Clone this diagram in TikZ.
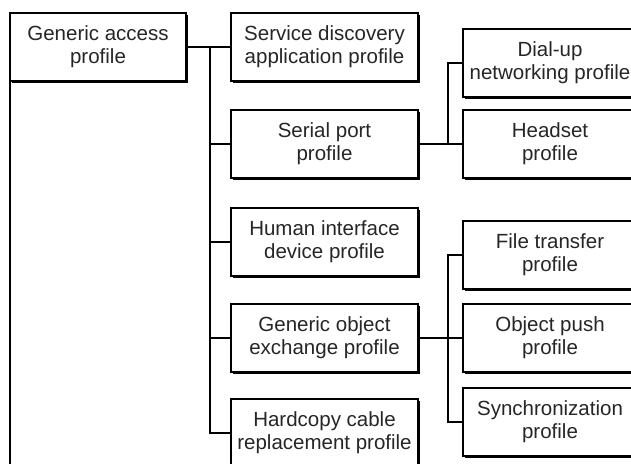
\documentclass[tikz,border=0pt]{standalone}
\usepackage{fontspec}
\setmainfont{Liberation Sans}
\usetikzlibrary{shadows}
\begin{document}
\begin{tikzpicture}[x=1pt,y=-1pt,
    profile/.style={draw, line width=1.3pt, fill=white, align=center,
      inner sep=0pt, minimum height=68pt, text=black!85,
      font=\fontsize{20.5}{23}\selectfont,
      drop shadow={shadow xshift=1.6pt, shadow yshift=-1.6pt, opacity=1, fill=black}},
    link/.style={line width=1.5pt}]
  \useasboundingbox (0,0) rectangle (631,463);
  \clip (0,0) rectangle (631,463);
  \fill[white] (0,0) rectangle (631,463);
  % outer frame of the generic access profile, cut off below
  \draw[line width=1.3pt] (10,81) -- (10,470);
  \path
    (98,47) node[profile, minimum width=176pt] (gap) {Generic access\\profile}
    (324.5,47) node[profile, minimum width=187pt] (sdap) {Service discovery\\application profile}
    (324.5,144) node[profile, minimum width=187pt] (spp) {Serial port\\profile}
    (324.5,242) node[profile, minimum width=187pt] (hidp) {Human interface\\device profile}
    (324.5,338) node[profile, minimum width=187pt] (goep) {Generic object\\exchange profile}
    (324.5,433) node[profile, minimum width=187pt] (hcrp) {Hardcopy cable\\replacement profile}
    (550,63) node[profile, minimum width=174pt] (dun) {Dial-up\\networking profile}
    (550,144) node[profile, minimum width=174pt] (hsp) {Headset\\profile}
    (550,255) node[profile, minimum width=174pt] (ftp) {File transfer\\profile}
    (550,338) node[profile, minimum width=174pt] (opp) {Object push\\profile}
    (550,422) node[profile, minimum width=174pt] (sync) {Synchronization\\profile};
  \coordinate (gapj) at (210,47);
  \coordinate (sppj) at (448,144);
  \coordinate (goepj) at (448,338);
  \begin{scope}[link]
    \draw (gap) to (sdap);
    \draw (gapj) |- (spp);
    \draw (gapj) |- (hidp);
    \draw (gapj) |- (goep);
    \draw (gapj) |- (hcrp);
    \draw (spp) to (hsp);
    \draw (sppj) |- (dun);
    \draw (goep) to (opp);
    \draw (goepj) |- (ftp);
    \draw (goepj) |- (sync);
  \end{scope}
\end{tikzpicture}
\end{document}
